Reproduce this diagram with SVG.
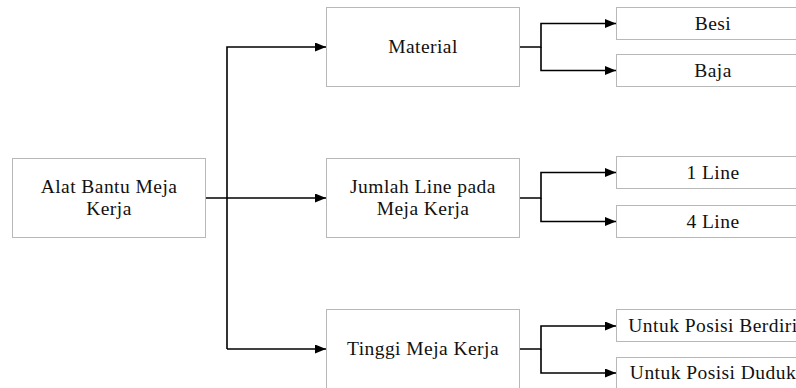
<svg xmlns="http://www.w3.org/2000/svg" width="796" height="388" viewBox="0 0 796 388">
<style>
.box{fill:#fff;stroke:#b8b8b8;stroke-width:1}
.t{font-family:"Liberation Serif","Times New Roman",serif;font-size:19.5px;letter-spacing:0.45px;fill:#111;text-anchor:middle}
.c{fill:none;stroke:#000;stroke-width:1.6}
</style>
<defs>
<marker id="ah" markerWidth="11" markerHeight="9" refX="11" refY="4.5" orient="auto" markerUnits="userSpaceOnUse">
<path d="M0,0 L11,4.5 L0,9 Z" fill="#000"/>
</marker>
</defs>
<rect width="796" height="388" fill="#fff"/>
<g id="connectors">
<path class="c" d="M205,198 H326" marker-end="url(#ah)"/>
<path class="c" d="M227,349 V47 H326" marker-end="url(#ah)"/>
<path class="c" d="M227,349 H326" marker-end="url(#ah)"/>
<path class="c" d="M519,47 H541 V23.5 H616" marker-end="url(#ah)"/>
<path class="c" d="M541,47 V70.5 H616" marker-end="url(#ah)"/>
<path class="c" d="M519,198 H541 V172.5 H616" marker-end="url(#ah)"/>
<path class="c" d="M541,198 V221.5 H616" marker-end="url(#ah)"/>
<path class="c" d="M519,349 H541 V326 H616" marker-end="url(#ah)"/>
<path class="c" d="M541,349 V373 H616" marker-end="url(#ah)"/>
</g>
<g id="root">
<rect class="box" x="12.5" y="158.5" width="193" height="79"/>
<text class="t" x="109" y="193">Alat Bantu Meja</text>
<text class="t" x="109" y="215">Kerja</text>
</g>
<g id="material">
<rect class="box" x="326.5" y="7.5" width="193" height="79"/>
<text class="t" x="423" y="53">Material</text>
</g>
<g id="jumlah">
<rect class="box" x="326.5" y="158.5" width="193" height="79"/>
<text class="t" x="423" y="193">Jumlah Line pada</text>
<text class="t" x="423" y="215">Meja Kerja</text>
</g>
<g id="tinggi">
<rect class="box" x="326.5" y="309.5" width="193" height="80"/>
<text class="t" x="423" y="355">Tinggi Meja Kerja</text>
</g>
<g id="besi">
<rect class="box" x="616.5" y="7.5" width="193" height="32"/>
<text class="t" x="713" y="29.5">Besi</text>
</g>
<g id="baja">
<rect class="box" x="616.5" y="54.5" width="193" height="32"/>
<text class="t" x="713" y="76.5">Baja</text>
</g>
<g id="line1">
<rect class="box" x="616.5" y="156.5" width="193" height="32"/>
<text class="t" x="713" y="178.5">1 Line</text>
</g>
<g id="line4">
<rect class="box" x="616.5" y="205.5" width="193" height="32"/>
<text class="t" x="713" y="227.5">4 Line</text>
</g>
<g id="berdiri">
<rect class="box" x="616.5" y="309.5" width="193" height="32"/>
<text class="t" x="713" y="332">Untuk Posisi Berdiri</text>
</g>
<g id="duduk">
<rect class="box" x="616.5" y="357.5" width="193" height="32"/>
<text class="t" x="713" y="379">Untuk Posisi Duduk</text>
</g>
</svg>
